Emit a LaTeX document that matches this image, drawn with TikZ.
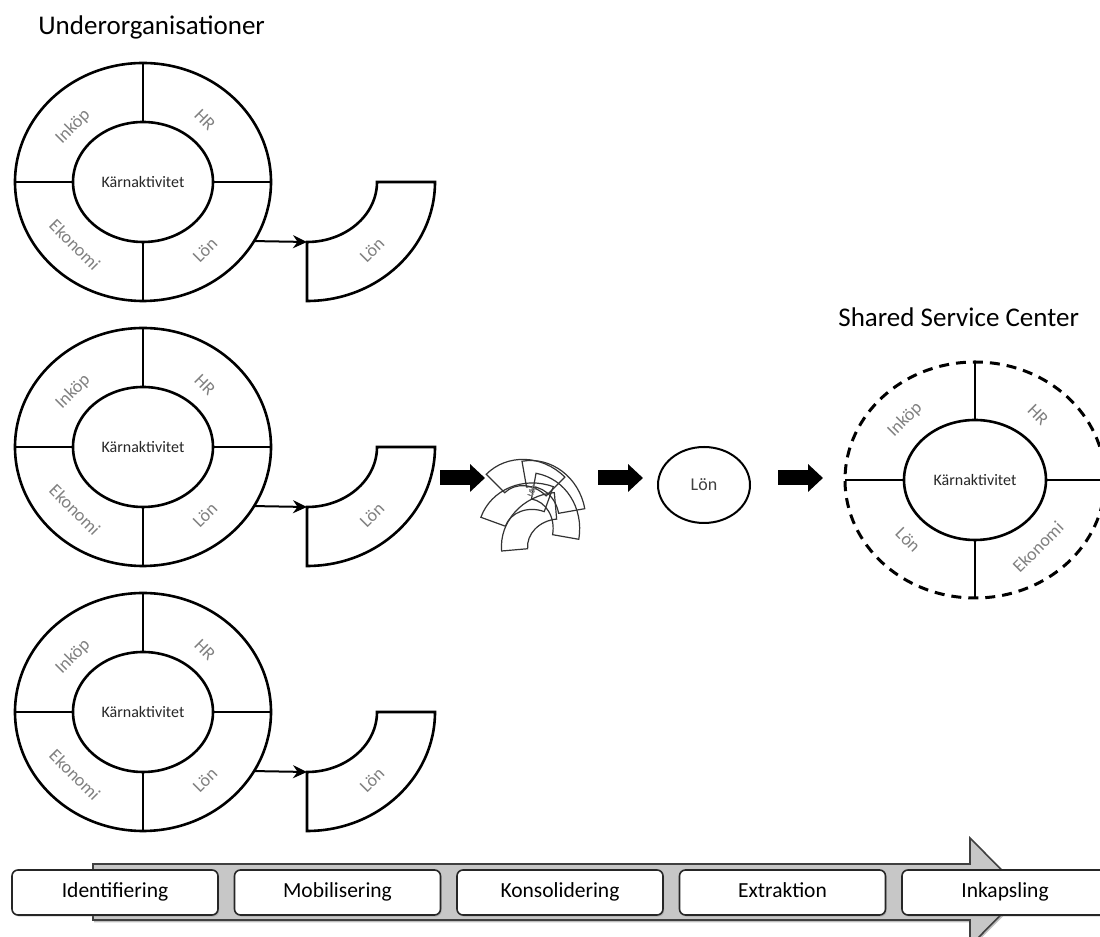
\documentclass[tikz,border=0pt]{standalone}
\usepackage{fontspec}
\setmainfont{Carlito}
\usetikzlibrary{arrows.meta,shapes.geometric,shadows}
\def\lonpiece[#1](#2){\draw[shift={(#2)},#1] (0,-60) -- (0,-119) arc[start angle=270,end angle=360,x radius=128,y radius=119] -- (70,0) arc[start angle=0,end angle=-90,x radius=70,y radius=60] -- cycle;}

\begin{document}
\begin{tikzpicture}[x=0.5pt,y=0.5pt,
    ring/.style={ellipse,draw,line width=1.3pt,minimum width=128pt,minimum height=119pt,inner sep=0pt,outer sep=0pt},
    core/.style={ellipse,draw,line width=1.3pt,minimum width=70pt,minimum height=60pt,inner sep=0pt,outer sep=0pt,text=black!85,font=\fontsize{8}{9}\selectfont},
    part/.style={text=black!50,inner sep=0pt,font=\fontsize{9}{10}\selectfont},
    link/.style={line width=1pt,-{Stealth[length=7pt,width=6.5pt]}},
    bigarrow/.style={line width=7.5pt,-{Triangle[length=7.5pt,width=13.5pt]}},
    stage/.style={draw=black!85,line width=0.8pt,fill=white,rounded corners=3pt,minimum width=103pt,minimum height=22.5pt,inner sep=0pt,text height=7.6pt,text depth=2.4pt,font=\fontsize{10.75}{12}\selectfont,drop shadow={shadow xshift=0.6pt,shadow yshift=-0.8pt,opacity=0.35}},
    title/.style={anchor=base west,inner sep=0pt,font=\fontsize{13.5}{16}\selectfont}]
  \useasboundingbox (0,0) rectangle (1100,937);

  %%%%% UNDERORGANISATIONER %%%%%
  \node[title] (orgtitle) at (38,902) {Underorganisationer};
  \foreach \i/\y in {1/755,2/490,3/225}{
    \node[ring] (org\i) at (143,\y) {};
    \node[core] (core\i) at (143,\y) {Kärnaktivitet};
    \draw[line width=1.3pt] (org\i.north) -- (core\i.north);
    \draw[line width=1.3pt] (org\i.south) -- (core\i.south);
    \draw[line width=1.3pt] (org\i.west) -- (core\i.west);
    \draw[line width=1.3pt] (org\i.east) -- (core\i.east);
    \node[part,rotate=45] (inkop\i) at (73,{\y+55}) {Inköp};
    \node[part,rotate=-45] (hr\i) at (205,{\y+62}) {HR};
    \node[part,rotate=-45] (ekonomi\i) at (75,{\y-63}) {Ekonomi};
    \node[part,rotate=45] (lon\i) at (205,{\y-68}) {Lön};
    \lonpiece[line width=1.3pt](307,\y)
    \node[part,rotate=45] (seglon\i) at (372,{\y-68}) {Lön};
    \coordinate (seg\i) at (307,{\y-60});
    \draw[link] (org\i.-28.5) -- (seg\i);
  }

  %%%%% KONSOLIDERING %%%%%
  \coordinate (segend) at (435,459);
  \coordinate (scatter) at (537,459);
  \foreach \r/\px/\py in {135/527/422,100/532/419,160/535/400,80/526/407,185/559/391}
    \lonpiece[black!80,line width=0.6pt,rotate=\r,scale=0.45](\px,\py)
  \node[part,rotate=70,font=\fontsize{4}{5}\selectfont] (scatterlon) at (532,446) {Lön};

  \node[ellipse,draw,line width=1pt,minimum width=46pt,minimum height=38pt,inner sep=0pt,outer sep=0pt,text=black!75,font=\fontsize{9}{10}\selectfont] (lon) at (704,452) {Lön};

  %%%%% SHARED SERVICE CENTER %%%%%
  \node[title] (ssctitle) at (838,610) {Shared Service Center};
  \node[ring,minimum width=130pt,minimum height=118pt,line width=1.5pt,dash pattern=on 5pt off 3.5pt] (ssc) at (975,457) {};
  \node[core,minimum width=71pt] (ssccore) at (975,457) {Kärnaktivitet};
  \draw[line width=1.3pt] (ssc.north) -- (ssccore.north);
  \draw[line width=1.3pt] (ssc.south) -- (ssccore.south);
  \draw[line width=1.3pt] (ssc.west) -- (ssccore.west);
  \draw[line width=1.3pt] (ssc.east) -- (ssccore.east);
  \node[part,rotate=45] (sscinkop) at (905,517) {Inköp};
  \node[part,rotate=-45] (sschr) at (1038,522) {HR};
  \node[part,rotate=-45] (ssclon) at (908,397) {Lön};
  \node[part,rotate=45] (sscekonomi) at (1038,390) {Ekonomi};

  \draw[bigarrow,shorten <=2.5pt,shorten >=26pt] (segend) -- (scatter);
  \draw[bigarrow,shorten <=30.5pt,shorten >=7.5pt] (scatter) -- (scatter -| lon.west);
  \draw[bigarrow,shorten <=14pt,shorten >=11pt] (lon.east |- scatter) -- (scatter -| ssc.west);

  %%%%% FASER %%%%%
  \draw[draw=black!75,line width=0.8pt,fill=black!22,drop shadow={shadow xshift=0.6pt,shadow yshift=-1.2pt,opacity=0.5}] (93,73) -- (970,73) -- (970,99) -- (1023.5,45) -- (970,-9) -- (970,17) -- (93,17) -- cycle;
  \node[stage] (identifiering) at (115,44.5) {Identifiering};
  \node[stage] (mobilisering) at (337.5,44.5) {Mobilisering};
  \node[stage] (konsolidering) at (560,44.5) {Konsolidering};
  \node[stage] (extraktion) at (782.5,44.5) {Extraktion};
  \node[stage] (inkapsling) at (1005,44.5) {Inkapsling};
\end{tikzpicture}
\end{document}
